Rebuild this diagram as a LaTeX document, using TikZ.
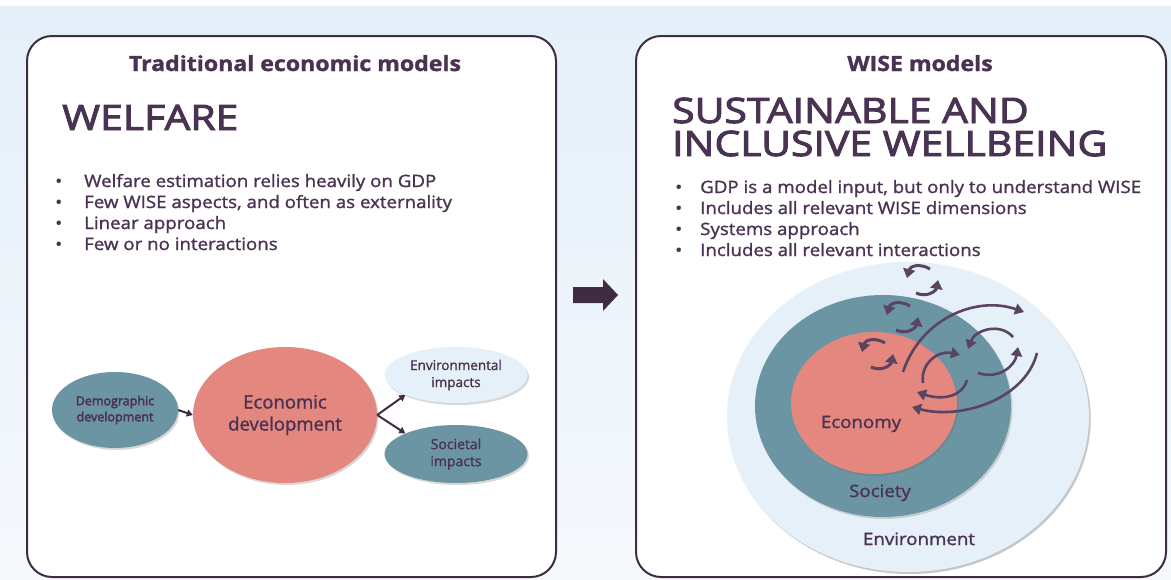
\documentclass[tikz,border=0pt]{standalone}
\usepackage{fontspec}
\setmainfont{Open Sans}[FakeStretch=1.1, FakeBold=1.4]
\newfontfamily\headfont{Open Sans}[FakeStretch=1.17, FakeBold=2.8]
\newfontfamily\plainfont{Open Sans}[FakeBold=1.4]
\newfontfamily\semifont{Open Sans}[FakeBold=3]
\usetikzlibrary{shapes.geometric,shadows,arrows.meta}
\definecolor{ink}{HTML}{4A3352}
\definecolor{frame}{HTML}{3E2C43}
\definecolor{salmon}{HTML}{E3877F}
\definecolor{tealc}{HTML}{6C95A3}
\definecolor{pale}{HTML}{E5F0F8}
\definecolor{arrowc}{HTML}{5A4462}
\definecolor{bgtop}{HTML}{E4EFF9}
\definecolor{bgbot}{HTML}{F6F9FC}
\tikzset{
 panel/.style={draw=frame, line width=2pt, fill=white, rounded corners=25pt},
 blob/.style={ellipse, inner sep=0pt, text=ink, align=center,
   drop shadow={shadow xshift=1.5pt, shadow yshift=-2pt, opacity=0.25, fill=black!60}},
 bul/.style={anchor=base west, text=ink, font=\fontsize{17}{20}\selectfont, inner sep=0pt},
 ttl/.style={anchor=base, text=ink, font=\fontsize{21}{25}\selectfont\bfseries, inner sep=0pt},
 head/.style={anchor=base west, text=ink, font=\headfont\fontsize{35}{40}\selectfont, inner sep=0pt},
 lbl/.style={anchor=base, text=ink, font=\fontsize{17}{20}\selectfont, inner sep=0pt},
 flow/.style={draw=frame, line width=2pt, -{Triangle[length=6pt,width=7pt]}},
 loopar/.style={draw=arrowc, line width=3pt, -{Triangle[length=9pt,width=12pt]}},
 bigar/.style={draw=arrowc, line width=2.6pt, -{Triangle[length=9pt,width=11pt]}},
}
\begin{document}
\begin{tikzpicture}[x=1pt,y=-1pt]
\useasboundingbox (0,0) rectangle (1171,579);
\fill[white] (0,0) rectangle (1171,6);
\shade[top color=bgtop,bottom color=bgbot] (0,6) rectangle (1171,579);
\draw[panel] (27,36) rectangle (556,577);
\draw[panel] (636,36) rectangle (1166,577);
\fill[frame] (573,287) -- (603,287) -- (603,279) -- (618,295) -- (603,311) -- (603,303) -- (573,303) -- cycle;

% left panel
\node[ttl] (t1) at (295,71) {Traditional economic models};
\node[head] (h1) at (62,130) {WELFARE};
\node[bul] (lb1) at (55,187) {•};
\node[bul] (lb2) at (55,208) {•};
\node[bul] (lb3) at (55,229) {•};
\node[bul] (lb4) at (55,250) {•};
\node[bul] (lt1) at (84,187) {Welfare estimation relies heavily on GDP};
\node[bul] (lt2) at (84,208) {Few WISE aspects, and often as externality};
\node[bul] (lt3) at (84,229) {Linear approach};
\node[bul] (lt4) at (84,250) {Few or no interactions};

\node[blob, fill=tealc, minimum width=126pt, minimum height=76pt, font=\semifont\fontsize{12.5}{16}\selectfont] (demo) at (115,410) {Demographic\\development};
\node[blob, fill=salmon, minimum width=184pt, minimum height=136pt, font=\plainfont\fontsize{18.5}{22}\selectfont] (econ) at (285,415) {Economic\\development};
\node[blob, fill=pale, minimum width=143pt, minimum height=56pt, font=\plainfont\fontsize{13.5}{17}\selectfont] (envi) at (456,375) {Environmental\\impacts};
\node[blob, fill=tealc, minimum width=143pt, minimum height=58pt, font=\plainfont\fontsize{14}{17}\selectfont] (soci) at (456,454) {Societal\\impacts};
\draw[flow] (demo.east) -- (econ.west);
\draw[flow] (econ.east) -- (envi.south west);
\draw[flow] (econ.east) -- (soci.north west);

% right panel
\node[ttl] (t2) at (920,71) {WISE models};
\node[head] (h2a) at (672,123) {SUSTAINABLE AND};
\node[head] (h2b) at (672,156) {INCLUSIVE WELLBEING};
\node[bul] (rb1) at (675,193) {•};
\node[bul] (rb2) at (675,214) {•};
\node[bul] (rb3) at (675,235) {•};
\node[bul] (rb4) at (675,256) {•};
\node[bul] (rt1) at (700,193) {GDP is a model input, but only to understand WISE};
\node[bul] (rt2) at (700,214) {Includes all relevant WISE dimensions};
\node[bul] (rt3) at (700,235) {Systems approach};
\node[bul] (rt4) at (700,256) {Includes all relevant interactions};

\node[blob, fill=pale, minimum width=362pt, minimum height=310pt, drop shadow={shadow xshift=2pt, shadow yshift=-2pt, opacity=0.2, fill=black!50}] (envc) at (908,417) {};
\node[blob, fill=tealc, minimum width=256pt, minimum height=222pt] (socc) at (883,406) {};
\node[blob, fill=salmon, minimum width=166pt, minimum height=142pt] (ecoc) at (874,403) {};
\node[lbl] (ecol) at (861,428) {Economy};
\node[lbl] (socl) at (880,497) {Society};
\node[lbl] (envl) at (919,545) {Environment};

% small feedback loops
\foreach \dx/\dy in {0/0, -20/37, -45/74}{
  \begin{scope}[shift={(\dx,\dy)}]
    \draw[loopar] (930,269) .. controls (920,263) and (910,266) .. (907,278);
    \draw[loopar] (916,293) .. controls (927,298) and (936,291) .. (938,280);
  \end{scope}
}
% large interaction arcs
\draw[bigar] (903,372) .. controls (920,320) and (975,295) .. (1024,312);
\draw[bigar] (1037,353) .. controls (1025,400) and (960,420) .. (912,407);
\draw[bigar] (1013,337) .. controls (1000,322) and (975,330) .. (968,349);
\draw[bigar] (978,373) .. controls (1000,380) and (1015,365) .. (1018,347);
\draw[bigar] (923,383) .. controls (920,362) and (940,350) .. (960,355);
\draw[bigar] (967,380) .. controls (962,398) and (940,400) .. (917,392);
\end{tikzpicture}
\end{document}
